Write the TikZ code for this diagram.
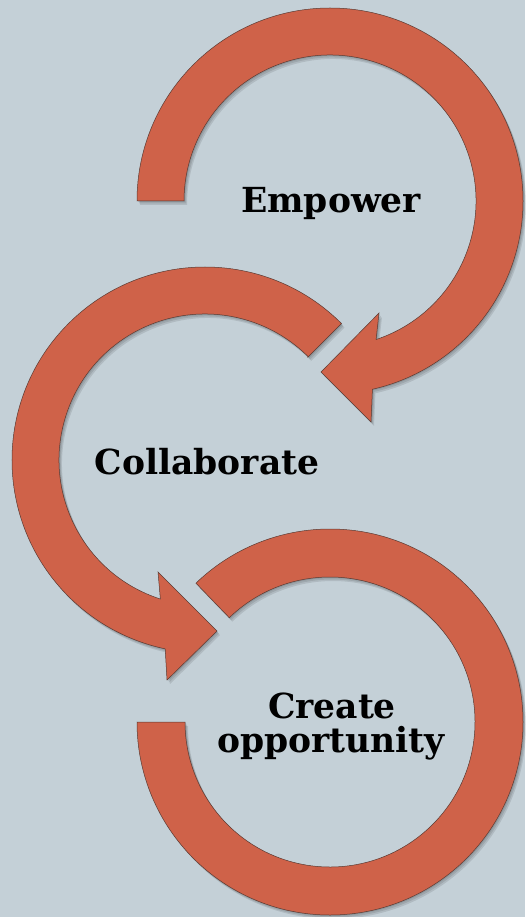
\documentclass[tikz,border=0pt]{standalone}
\usepackage{fontspec}
\setmainfont{DejaVu Serif}
\definecolor{bgc}{HTML}{C4D0D7}
\definecolor{arrowfill}{HTML}{CF6249}
\definecolor{arrowline}{HTML}{5A3A32}
\begin{document}
\begin{tikzpicture}[x=1pt,y=1pt,
  band/.style={fill=arrowfill,draw=arrowline,line width=0.5pt,line join=miter},
  shade1/.style={fill=black,opacity=0.10,draw=none},
  lbl/.style={font=\bfseries\fontsize{34.5}{34}\selectfont,text=black,align=center,inner sep=0pt}]
\fill[bgc] (0,0) rectangle (525,-917);
\useasboundingbox (0,0) rectangle (525,-917);
% path macros
\def\arrowone{(180:193pt) arc[start angle=180,end angle=-77.3,radius=193pt]
   -- (41pt,-221pt) -- (-9pt,-171pt) -- (49pt,-112pt)
   -- (-71.6:146pt) arc[start angle=-71.6,end angle=180,radius=146pt] -- cycle}
\def\arrowtwo{(45:145pt) -- (45:193pt) arc[start angle=45,end angle=258.1,radius=193pt]
   -- (-38pt,-220pt) -- (12pt,-171pt) -- (-47pt,-112pt)
   -- (252.2:146pt) arc[start angle=252.2,end angle=45,radius=146pt] -- cycle}
\def\arrowthree{(180:145pt) -- (180:193pt) arc[start angle=180,end angle=494,radius=193pt]
   -- (494:145pt) arc[start angle=494,end angle=180,radius=145pt] -- cycle}
% shadows
\foreach \dx/\dy in {1/-1,2/-2.5,3/-4}{
  \begin{scope}[shift={(330+\dx,-201+\dy)}]\fill[shade1] \arrowone;\end{scope}
  \begin{scope}[shift={(205+\dx,-460+\dy)}]\fill[shade1] \arrowtwo;\end{scope}
  \begin{scope}[shift={(330+\dx,-722+\dy)}]\fill[shade1] \arrowthree;\end{scope}
}
% arrows
\begin{scope}[shift={(330,-201)}]\path[band] \arrowone;\end{scope}
\begin{scope}[shift={(205,-460)}]\path[band] \arrowtwo;\end{scope}
\begin{scope}[shift={(330,-722)}]\path[band] \arrowthree;\end{scope}
% labels (anchored on baselines)
\node[lbl,anchor=base] (empower) at (331,-213) {Empower};
\node[lbl,anchor=base] (collab) at (207,-474) {Collaborate};
\node[lbl,anchor=base] (create) at (332,-718) {Create};
\node[lbl,anchor=base] (opp) at (331,-752) {opportunity};
\end{tikzpicture}
\end{document}
